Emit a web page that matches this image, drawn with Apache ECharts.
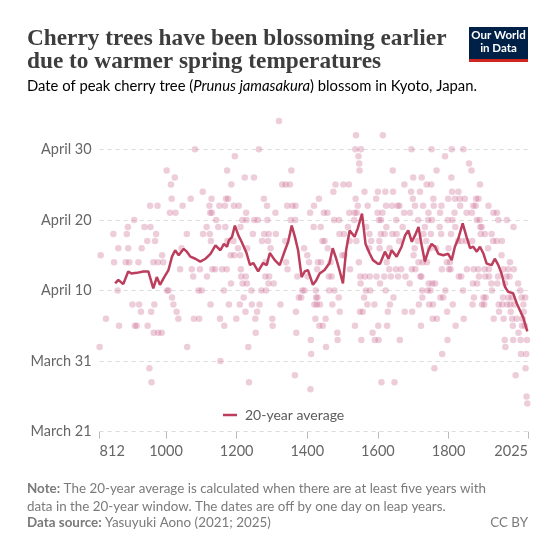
<!DOCTYPE html>
<html>
<head>
<meta charset="utf-8">
<script src="https://cdn.jsdelivr.net/npm/echarts@6/dist/echarts.min.js"></script>
<style>
  html, body { margin: 0; padding: 0; background: #fff; }
  #chart { width: 538px; height: 549px; }
</style>
</head>
<body>
<div id="chart"></div>
<script>
// peak bloom, day of year (80 = March 21)
const bloomYears = [
  812, 815, 830, 851, 853, 863, 865, 867, 886, 889, 892, 893, 896, 905, 910, 912, 917, 922, 924, 929,
  931, 939, 947, 948, 953, 955, 956, 958, 959, 964, 965, 967, 969, 972, 976, 977, 978, 988, 989, 992,
  1002, 1003, 1007, 1011, 1014, 1016, 1017, 1021, 1025, 1027, 1030, 1035, 1040, 1044, 1047, 1059, 1060, 1070, 1073, 1077,
  1079, 1082, 1092, 1094, 1096, 1101, 1104, 1105, 1115, 1116, 1123, 1124, 1125, 1126, 1127, 1129, 1130, 1131, 1139, 1142,
  1148, 1151, 1153, 1154, 1159, 1164, 1165, 1167, 1168, 1170, 1172, 1173, 1174, 1176, 1178, 1183, 1184, 1185, 1191, 1192,
  1193, 1195, 1199, 1204, 1206, 1209, 1210, 1211, 1212, 1213, 1216, 1217, 1220, 1223, 1225, 1226, 1227, 1228, 1229, 1230,
  1233, 1235, 1242, 1243, 1246, 1249, 1250, 1253, 1254, 1258, 1260, 1263, 1265, 1270, 1272, 1277, 1278, 1281, 1282, 1283,
  1286, 1287, 1289, 1290, 1291, 1292, 1296, 1301, 1302, 1305, 1310, 1311, 1320, 1324, 1329, 1338, 1339, 1340, 1343, 1344,
  1351, 1353, 1355, 1358, 1365, 1366, 1367, 1368, 1369, 1372, 1376, 1383, 1386, 1391, 1392, 1400, 1401, 1405, 1408, 1409,
  1410, 1411, 1418, 1419, 1420, 1423, 1424, 1425, 1427, 1428, 1429, 1430, 1433, 1434, 1436, 1438, 1439, 1443, 1444, 1447,
  1449, 1452, 1453, 1457, 1458, 1461, 1462, 1466, 1469, 1471, 1474, 1476, 1477, 1480, 1485, 1486, 1489, 1490, 1491, 1492,
  1499, 1502, 1504, 1505, 1515, 1518, 1519, 1520, 1521, 1533, 1534, 1535, 1536, 1537, 1538, 1539, 1540, 1543, 1545, 1546,
  1547, 1548, 1549, 1550, 1551, 1552, 1553, 1557, 1561, 1562, 1563, 1566, 1567, 1570, 1571, 1575, 1576, 1577, 1578, 1581,
  1585, 1590, 1591, 1595, 1596, 1599, 1600, 1601, 1602, 1603, 1604, 1605, 1606, 1608, 1609, 1610, 1613, 1614, 1618, 1619,
  1621, 1622, 1623, 1624, 1625, 1626, 1628, 1632, 1633, 1634, 1637, 1640, 1641, 1642, 1643, 1644, 1647, 1651, 1652, 1653,
  1656, 1657, 1660, 1661, 1662, 1666, 1670, 1674, 1675, 1676, 1678, 1690, 1691, 1694, 1695, 1696, 1697, 1699, 1700, 1701,
  1704, 1705, 1706, 1713, 1714, 1715, 1716, 1719, 1720, 1722, 1723, 1724, 1725, 1726, 1727, 1728, 1729, 1733, 1737, 1738,
  1739, 1741, 1742, 1743, 1744, 1745, 1747, 1749, 1750, 1751, 1752, 1753, 1754, 1755, 1756, 1757, 1758, 1760, 1762, 1765,
  1766, 1767, 1775, 1776, 1777, 1779, 1780, 1781, 1782, 1785, 1790, 1791, 1795, 1796, 1797, 1798, 1799, 1800, 1801, 1804,
  1806, 1807, 1808, 1809, 1810, 1811, 1812, 1817, 1818, 1819, 1820, 1827, 1828, 1829, 1832, 1833, 1836, 1837, 1841, 1842,
  1843, 1846, 1850, 1851, 1852, 1858, 1865, 1866, 1867, 1868, 1869, 1870, 1871, 1872, 1877, 1878, 1880, 1881, 1884, 1885,
  1886, 1888, 1889, 1890, 1891, 1894, 1895, 1899, 1901, 1902, 1903, 1904, 1905, 1912, 1913, 1914, 1915, 1921, 1922, 1923,
  1926, 1927, 1928, 1936, 1937, 1938, 1940, 1941, 1942, 1943, 1950, 1951, 1952, 1954, 1955, 1956, 1959, 1960, 1961, 1964,
  1965, 1966, 1969, 1970, 1973, 1974, 1975, 1976, 1979, 1980, 1982, 1983, 1984, 1985, 1986, 1990, 1993, 1997, 1998, 2003,
  2004, 2005, 2007, 2008, 2010, 2012, 2013, 2016, 2017, 2018, 2020, 2021, 2022, 2023
];
const bloomDays = [
  92, 105, 96, 108, 104, 100, 106, 95, 104, 108, 109, 106, 104, 98, 110, 95, 95, 104, 98, 97,
  106, 109, 107, 95, 89, 112, 109, 97, 87, 104, 94, 98, 107, 108, 112, 104, 94, 94, 105, 104,
  117, 100, 100, 111, 115, 113, 99, 98, 116, 111, 97, 96, 103, 106, 112, 108, 92, 113, 103, 102,
  96, 120, 100, 96, 103, 100, 114, 108, 109, 102, 112, 108, 111, 98, 107, 113, 111, 103, 103, 110,
  109, 112, 96, 90, 103, 100, 95, 112, 109, 113, 103, 117, 107, 113, 98, 105, 101, 115, 107, 112,
  105, 119, 96, 106, 112, 98, 105, 109, 103, 102, 110, 101, 99, 116, 97, 102, 111, 110, 101, 106,
  92, 87, 100, 98, 108, 116, 110, 96, 94, 97, 110, 120, 98, 100, 107, 113, 108, 102, 104, 100,
  112, 110, 107, 101, 108, 102, 106, 96, 95, 101, 111, 108, 124, 98, 115, 107, 115, 104, 112, 103,
  115, 110, 117, 112, 88, 110, 112, 97, 94, 102, 99, 99, 100, 106, 100, 105, 102, 104, 111, 86,
  93, 91, 109, 112, 98, 96, 100, 99, 98, 103, 99, 104, 113, 95, 98, 109, 104, 107, 95, 111,
  107, 96, 92, 111, 106, 102, 100, 104, 102, 98, 114, 110, 100, 115, 94, 93, 99, 110, 108, 97,
  105, 115, 108, 105, 109, 115, 111, 107, 103, 110, 111, 95, 120, 113, 122, 107, 111, 112, 119, 104,
  118, 117, 97, 102, 101, 120, 93, 97, 99, 114, 102, 100, 109, 98, 112, 106, 108, 102, 100, 107,
  94, 98, 93, 113, 102, 111, 114, 95, 93, 110, 107, 106, 101, 108, 110, 87, 111, 122, 102, 108,
  114, 100, 112, 109, 104, 95, 97, 103, 106, 98, 102, 112, 108, 117, 114, 99, 87, 103, 110, 108,
  112, 102, 107, 112, 93, 103, 109, 111, 115, 97, 102, 101, 111, 114, 120, 103, 97, 113, 116, 105,
  106, 112, 103, 107, 110, 104, 98, 114, 102, 95, 102, 116, 100, 99, 104, 112, 108, 109, 107, 115,
  104, 100, 110, 111, 101, 98, 106, 100, 108, 115, 120, 110, 101, 96, 98, 113, 112, 89, 101, 106,
  117, 96, 109, 111, 99, 108, 112, 103, 91, 99, 119, 100, 104, 97, 93, 110, 113, 106, 103, 104,
  103, 108, 116, 120, 114, 110, 98, 111, 113, 109, 95, 107, 114, 102, 113, 112, 102, 107, 100, 120,
  96, 113, 107, 111, 103, 118, 117, 111, 107, 98, 101, 112, 103, 99, 112, 113, 110, 101, 103, 113,
  102, 110, 115, 109, 108, 109, 98, 99, 98, 103, 108, 102, 99, 106, 112, 103, 102, 101, 108, 100,
  107, 111, 96, 107, 111, 101, 102, 110, 98, 97, 105, 107, 98, 99, 103, 96, 93, 101, 92, 102,
  110, 98, 103, 99, 102, 104, 98, 97, 99, 96, 95, 93, 109, 103, 98, 88, 96, 101, 94, 100,
  93, 91, 99, 95, 96, 98, 97, 95, 99, 89, 91, 85, 93, 84
];

// 20-year average
const avgYears = [
  856, 865, 879, 893, 902, 917, 936, 950, 964, 974, 983, 995, 1007, 1017, 1026, 1036, 1050, 1059, 1069, 1083,
  1097, 1112, 1126, 1140, 1154, 1164, 1173, 1178, 1187, 1195, 1205, 1214, 1228, 1238, 1247, 1261, 1275, 1285, 1294, 1308,
  1322, 1337, 1346, 1356, 1365, 1374, 1384, 1393, 1402, 1416, 1426, 1435, 1449, 1463, 1472, 1482, 1491, 1501, 1510, 1520,
  1534, 1543, 1555, 1565, 1577, 1586, 1600, 1606, 1620, 1630, 1639, 1653, 1667, 1677, 1686, 1696, 1705, 1715, 1724, 1733,
  1743, 1752, 1762, 1771, 1785, 1799, 1809, 1818, 1828, 1840, 1851, 1861, 1870, 1880, 1889, 1899, 1908, 1922, 1931, 1941,
  1950, 1960, 1969, 1983, 1993, 2002, 2012, 2023
];
const avgDays = [
  101.0, 101.5, 100.9, 102.7, 102.4, 102.5, 102.7, 102.7, 100.3, 101.9, 100.8, 101.9, 102.9, 104.8, 105.7, 105.0, 105.9, 105.5, 104.8, 104.5,
  104.1, 104.5, 105.2, 106.4, 105.7, 106.6, 106.2, 107.1, 107.6, 109.2, 107.8, 106.9, 105.3, 103.6, 103.9, 102.7, 103.9, 103.6, 105.3, 104.3,
  103.6, 105.7, 106.9, 109.2, 107.6, 105.7, 101.9, 102.7, 102.9, 100.8, 101.5, 102.4, 102.9, 103.9, 106.0, 104.5, 102.9, 101.0, 105.7, 108.5,
  107.6, 108.8, 110.9, 106.6, 105.2, 104.3, 103.8, 103.8, 105.5, 104.5, 105.7, 104.8, 106.2, 107.8, 108.5, 106.9, 107.8, 109.0, 106.4, 104.1,
  105.7, 106.6, 106.2, 105.2, 105.0, 105.2, 104.3, 106.2, 107.4, 109.5, 107.6, 106.0, 106.2, 105.5, 106.2, 105.2, 103.8, 103.6, 104.5, 103.6,
  102.4, 100.5, 99.8, 99.6, 98.2, 97.2, 96.1, 94.2
];

const yTickValues = [80, 90, 100, 110, 120];
const yTickLabels = ['March 21', 'March 31', 'April 10', 'April 20', 'April 30'];
const xTickValues = [812, 1000, 1200, 1400, 1600, 1800, 2025];

const font = 'Lato, "Noto Sans", sans-serif';
const chart = echarts.init(document.getElementById('chart'), null, { renderer: 'canvas' });

const option = {
  backgroundColor: '#fff',
  animation: false,
  textStyle: { fontFamily: font },
  grid: { left: 99.6, right: 10, top: 149.3, bottom: 117.3 },
  legend: {
    data: [{ name: '20-year average', icon: 'rect' }],
    left: 218,
    top: 403,
    itemWidth: 14,
    itemHeight: 2.5,
    textStyle: { fontSize: 14, color: '#5b5b5b', fontFamily: font, padding: [0, 0, 0, 3] },
    selectedMode: false
  },
  xAxis: {
    type: 'value',
    min: 812,
    max: 2025,
    axisLine: { show: false },
    splitLine: { show: false },
    axisTick: {
      show: true,
      customValues: xTickValues,
      length: 7,
      lineStyle: { color: '#bbb' }
    },
    axisLabel: {
      customValues: xTickValues,
      formatter: v => String(v),
      margin: 12,
      fontSize: 14.5,
      color: '#666',
      fontFamily: font,
      alignMinLabel: 'left',
      alignMaxLabel: 'right'
    }
  },
  yAxis: {
    type: 'value',
    min: 80,
    max: 120,
    interval: 10,
    axisLine: { show: false },
    axisTick: { show: false },
    splitLine: { lineStyle: { color: '#dcdcdc', type: [4, 4] } },
    axisLabel: {
      formatter: v => yTickLabels[yTickValues.indexOf(v)] || '',
      fontSize: 14.5,
      color: '#666',
      fontFamily: font,
      margin: 8
    }
  },
  series: [
    {
      type: 'scatter',
      name: 'blossom',
      data: bloomYears.map((y, i) => [y, bloomDays[i]]),
      symbolSize: 6.5,
      clip: false,
      silent: true,
      itemStyle: { color: 'rgba(200, 90, 135, 0.38)' },
      z: 1
    },
    {
      type: 'line',
      name: '20-year average',
      data: avgYears.map((y, i) => [y, avgDays[i]]),
      showSymbol: false,
      silent: true,
      lineStyle: { width: 2.5, color: '#bc3d5c' },
      itemStyle: { color: '#bc3d5c' },
      z: 3
    }
  ],
  graphic: [
    {
      type: 'text', left: 27, top: 27,
      style: {
        text: 'Cherry trees have been blossoming earlier\ndue to warmer spring temperatures',
        font: 'bold 23.3px "Liberation Serif", serif',
        lineHeight: 23.5,
        fill: '#3d3d3d'
      }
    },
    {
      type: 'text', left: 27, top: 79,
      style: {
        text: '{a|Date of peak cherry tree (}{i|Prunus jamasakura}{a|) blossom in Kyoto, Japan.}',
        rich: {
          a: { fontSize: 14.8, fontFamily: font, color: '#5b5b5b' },
          i: { fontSize: 14.8, fontFamily: font, color: '#5b5b5b', fontStyle: 'italic' }
        }
      }
    },
    { type: 'rect', shape: { x: 469, y: 27, width: 59, height: 35 }, style: { fill: '#002147' } },
    { type: 'rect', shape: { x: 469, y: 59, width: 59, height: 3 }, style: { fill: '#ce261e' } },
    {
      type: 'text', x: 498.5, y: 29.5,
      style: {
        text: 'Our World\nin Data', align: 'center',
        font: 'bold 11.5px Lato, sans-serif', lineHeight: 12.5, fill: '#fff'
      }
    },
    {
      type: 'text', left: 27, top: 480,
      style: {
        text: '{b|Note:} The 20-year average is calculated when there are at least five years with\ndata in the 20-year window. The dates are off by one day on leap years.',
        fontSize: 13.4, fontFamily: font, fill: '#7a7a7a', lineHeight: 17.5,
        rich: { b: { fontWeight: 'bold', fontSize: 13.4, fontFamily: font, color: '#555' } }
      }
    },
    {
      type: 'text', left: 27, top: 516,
      style: {
        text: '{b|Data source:} Yasuyuki Aono (2021; 2025)',
        fontSize: 13.4, fontFamily: font, fill: '#7a7a7a',
        rich: { b: { fontWeight: 'bold', fontSize: 13.4, fontFamily: font, color: '#555' } }
      }
    },
    {
      type: 'text', right: 10, top: 516,
      style: { text: 'CC BY', fontSize: 13.4, fontFamily: font, fill: '#7a7a7a' }
    }
  ]
};

chart.setOption(option);
</script>
</body>
</html>
